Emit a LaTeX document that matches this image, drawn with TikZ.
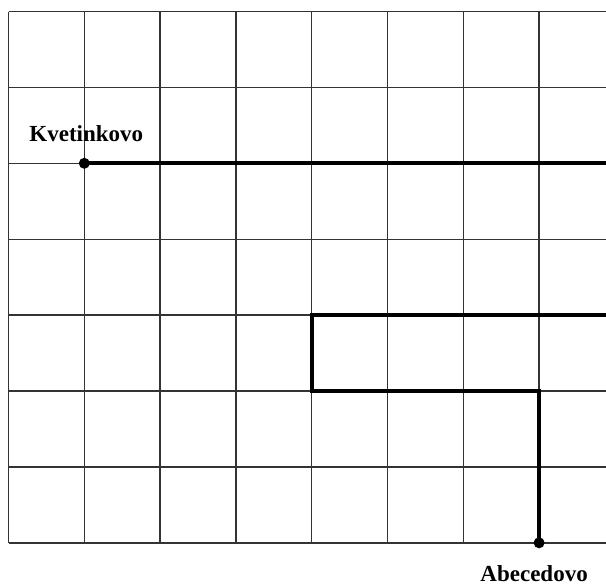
\documentclass[tikz,border=0pt]{standalone}
\usepackage{fontspec}
\setmainfont{Liberation Serif}
\usetikzlibrary{positioning}

\begin{document}
\begin{tikzpicture}[x=1pt,y=-1pt,font=\fontsize{23}{26}\selectfont\bfseries,
  gridline/.style={line width=1.4pt,black!80},
  road/.style={line width=4.2pt,black},
  town/.style={circle,fill=black,inner sep=0pt,minimum size=11pt}]
\useasboundingbox (0,0) rectangle (606,587);
\clip (0,0) rectangle (606,587);
% grid
\foreach \i in {0,...,7} {
  \draw[gridline] (8.5+75.8*\i,11.5) -- (8.5+75.8*\i,542.8);
  \draw[gridline] (8.5,11.5+75.9*\i) -- (612,11.5+75.9*\i);
}
% towns
\node[town] (kvet) at (84.3,163.3) {};
\node[town] (abec) at (539.1,542.8) {};
\node[above=12pt of kvet,xshift=2pt] (kvetlbl) {Kvetinkovo};
\node[below=14pt of abec,xshift=-5pt] (abeclbl) {Abecedovo};
% roads
\coordinate (east1) at (612,163.3);
\coordinate (east2) at (612,315.1);
\draw[road] (kvet.center) -- (east1);
\draw[road] (east2) -- (311.7,315.1) -- (311.7,391) -- (539.1,391) -- (abec.center);
\end{tikzpicture}
\end{document}
